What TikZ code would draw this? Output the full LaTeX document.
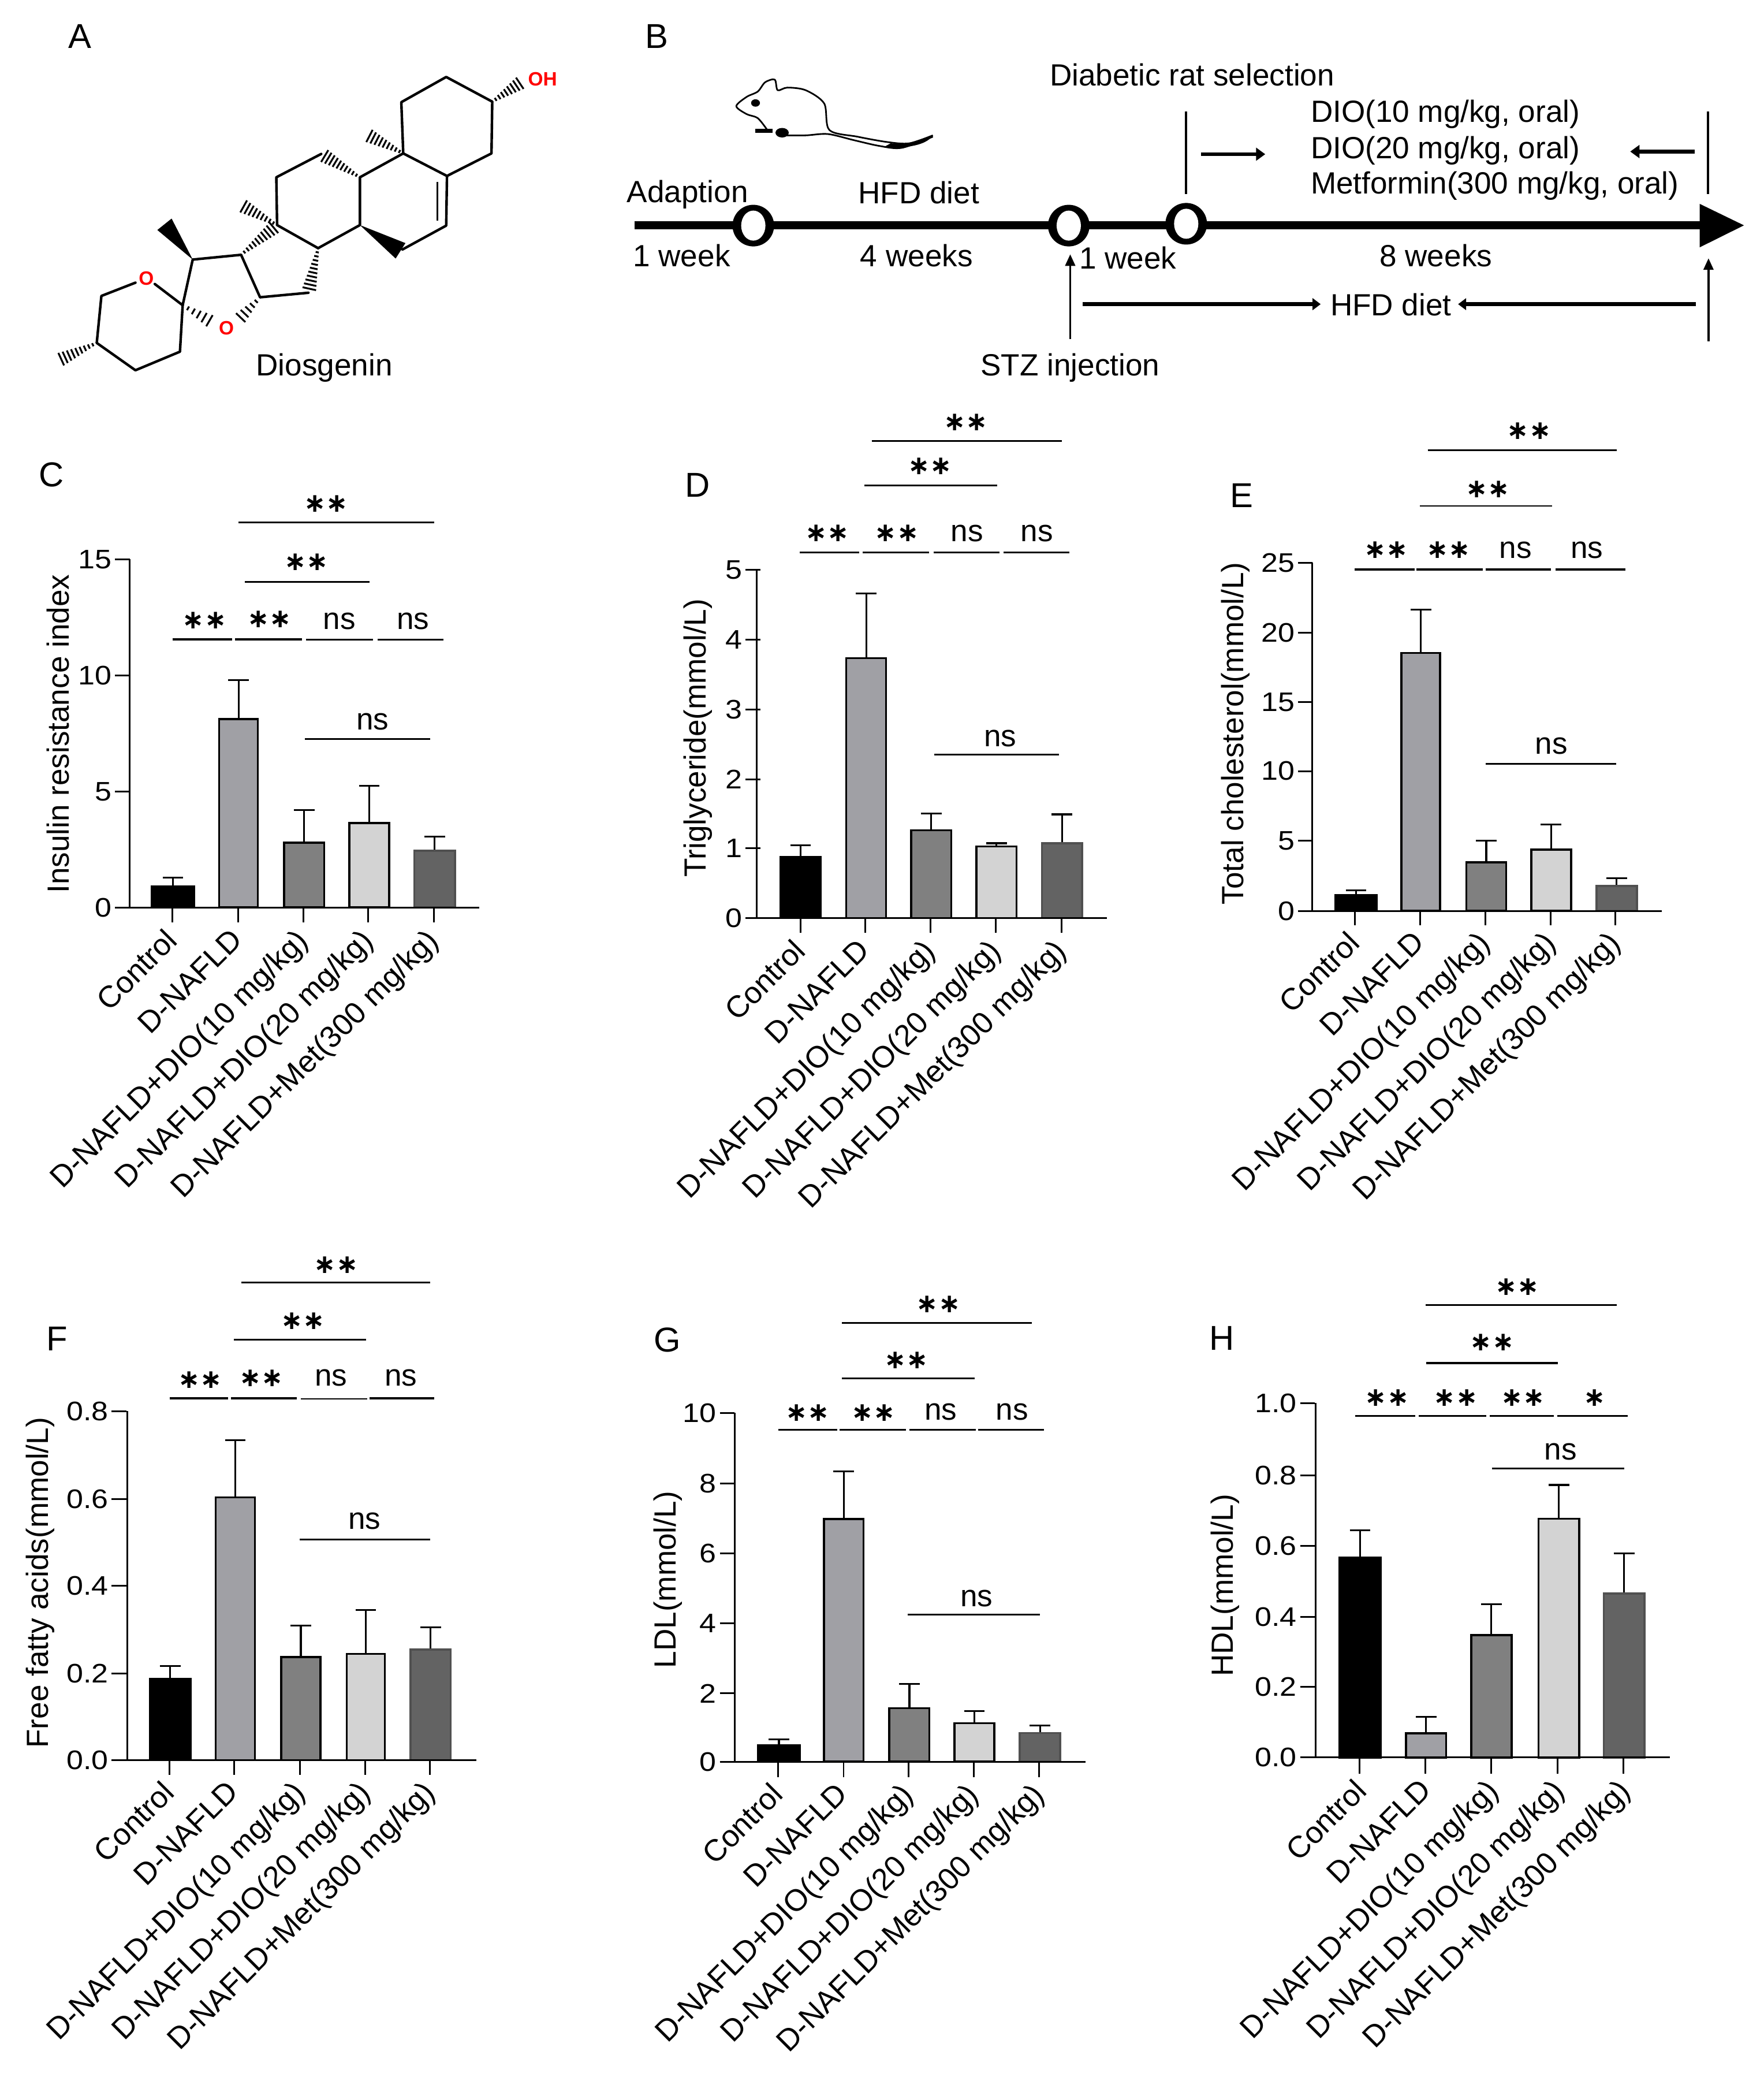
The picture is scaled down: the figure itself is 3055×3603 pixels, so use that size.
\documentclass[tikz,border=0pt]{standalone}
\usepackage{fontspec}
\setmainfont{Liberation Sans}
\newfontfamily\dvfont{DejaVu Sans}
\newfontfamily\tickfont[FakeStretch=1.12]{Liberation Sans}
\usetikzlibrary{calc,arrows.meta}
\newcount\ndc
\tikzset{
  txt/.style={inner sep=0pt,font=\fontsize{15.1}{17}\selectfont},
  nstxt/.style={txt,yshift=-0.025cm},
  ticktxt/.style={inner sep=0pt,anchor=east,font=\tickfont\fontsize{13.2}{15}\selectfont},
  axlab/.style={inner sep=0pt,rotate=90,font=\fontsize{15.1}{17}\selectfont},
  xlab/.style={inner sep=0pt,rotate=45,anchor=north east,font=\fontsize{15}{17}\selectfont},
  plet/.style={inner sep=0pt,font=\fontsize{17}{20}\selectfont},
  startxt/.style={inner sep=0pt,font=\dvfont\bfseries\fontsize{13}{15}\selectfont},
  axline/.style={line width=0.85pt,black},
  barbox/.style={line width=1pt,draw=black},
  errline/.style={line width=0.9pt,black},
  sigthin/.style={line width=0.8pt,black},
  sigthick/.style={line width=1pt,black},
  bond/.style={line width=1.25pt,black,line cap=round,line join=round},
  redatom/.style={inner sep=0pt,red,font=\bfseries\fontsize{9.5}{11}\selectfont},
  ring/.style={circle,fill=black,minimum size=0.72cm,inner sep=0pt},
  tlthin/.style={line width=1.1pt,black},
  tlmid/.style={line width=1.8pt,black},
}
\definecolor{cdn}{HTML}{A0A0A5}
\definecolor{cdten}{HTML}{808080}
\definecolor{cdtw}{HTML}{D3D3D3}
\definecolor{cmet}{HTML}{636363}
\definecolor{cmetb}{HTML}{505050}
\newcommand\lbl[3][txt]{\global\advance\ndc 1 \node[#1] (n\the\ndc) at (#2) {#3};}
\newcommand\nsl[1]{\lbl[nstxt]{#1}{ns}}
\newcommand\pbar[7][black]{%
  \draw[errline] ({(#2+#3)/2},#4) -- ({(#2+#3)/2},#6);
  \draw[errline] ({(#2+#3)/2-28},#6) -- ({(#2+#3)/2+28},#6);
  \draw[barbox,draw=#1,fill=#7] (#2,#5) rectangle (#3,#4);}
\newcommand\axes[7]{%
  \gdef\curtl{#4}%
  \draw[axline] (#1,#2) -- (#1,#3);
  \draw[axline] (#4,#3) -- (#5,#3);
  \foreach \tk in {#7} {\draw[axline] (\tk,#3) -- (\tk,#6);}}
\newcommand\ytk[2]{%
  \draw[axline] (\curtl,#1) -- ({\curtl+40},#1);
  \lbl[ticktxt]{{\curtl-8},#1}{#2}}
\newcommand\xlabs[6]{%
  \lbl[xlab]{{#1-25},{#6-8}}{Control}
  \lbl[xlab]{{#2-25},{#6-8}}{D-NAFLD}
  \lbl[xlab]{{#3-25},{#6-8}}{D-NAFLD+DIO(10 mg/kg)}
  \lbl[xlab]{{#4-25},{#6-8}}{D-NAFLD+DIO(20 mg/kg)}
  \lbl[xlab]{{#5-25},{#6-8}}{D-NAFLD+Met(300 mg/kg)}}
\newcommand\sgl[4][sigthin]{\draw[#1] (#2,#4) -- (#3,#4);}
\newcommand\stars[3]{\lbl[startxt]{#1,#2}{#3}}
\newcommand\hashb[3]{%
  \foreach \i in {0,...,#3} {%
    \pgfmathsetmacro\tt{\i/#3}\pgfmathsetmacro\ww{0.5+3.2*\i/#3}%
    \draw[line width=0.9pt] ($(#1)!\tt!(#2)!\ww pt!90:(#2)$) -- ($(#1)!\tt!(#2)!\ww pt!-90:(#2)$);}}
\newcommand\wedgeb[2]{\fill (#1) -- ($(#2)!4.5pt!90:(#1)$) -- ($(#2)!4.5pt!-90:(#1)$) -- cycle;}
\newcommand\ringhole[1]{\fill[white] (#1) ellipse [x radius=0.21cm,y radius=0.26cm];}
\begin{document}
\begin{tikzpicture}[x=0.01cm,y=-0.01cm]
\useasboundingbox (0,0) rectangle (3055,3603);
\fill[white] (0,0) rectangle (3055,3603);

% ---------- A
\begin{scope}[shift={(0,0)},x=0.006696cm,y=-0.004592cm]
\lbl[plet]{207,137}{A}
\foreach \n/\p in {a1/{1153,290},a2/{1272,383},a3/{1270,578},a4/{1155,663},a5/{1042,578},a6/{1037,385},
  b1/{1153,850},b2/{1040,940},b3/{930,848},b4/{930,668},c1/{830,580},c2/{714,668},c3/{716,848},c4/{822,935},
  d1/{797,1103},d2/{672,1120},d3/{623,960},e1/{498,978},s/{472,1150},f1/{262,1115},f2/{250,1292},f3/{350,1395},f4/{465,1325},
  oa/{378,1048},ob/{585,1235},oh/{1352,305},me1/{945,505},me2/{620,770},me3/{148,1360},wa/{425,845},wb/{1035,945},
  oa1/{400,1070},oa2/{350,1065},db1/{1130,685},db2/{1130,832},obs/{555,1220},obd/{612,1212}} {\coordinate (\n) at (\p);}
\draw[bond] (a5)--(a6)--(a1)--(a2)--(a3)--(a4)--(a5)--(b4)--(b3)--(c4);
\draw[bond] (a4)--(b1)--(b2);
\draw[line width=1pt] (db1)--(db2);
\draw[bond] (c1)--(c2)--(c3)--(c4);
\draw[bond] (d1)--(d2)--(d3)--(e1)--(s);
\draw[bond] (oa1)--(s)--(f4)--(f3)--(f2)--(f1)--(oa2);
\hashb{a2}{oh}{9}
\hashb{a5}{me1}{10}
\hashb{b4}{c1}{11}
\hashb{c3}{me2}{10}
\hashb{d3}{c3}{11}
\hashb{c4}{d1}{11}
\hashb{s}{obs}{6}
\hashb{d2}{obd}{6}
\hashb{f2}{me3}{10}
\wedgeb{e1}{wa}
\wedgeb{b3}{wb}
\lbl[redatom]{1402,298}{OH}
\lbl[redatom]{378,1048}{O}
\lbl[redatom]{585,1235}{O}
\lbl{838,1385}{Diosgenin}
\end{scope}

% ---------- B
\begin{scope}[shift={(1050,0)},x=0.012787cm,y=-0.004592cm]
\lbl[plet]{68,137}{B}
% mouse
\draw[line width=0.8pt,line join=round] plot[smooth,tension=0.5] coordinates {(218,490)(205,445)(190,430)(176,400)(190,365)(205,345)(215,310)(228,300)(232,340)(245,330)(270,340)(295,390)(302,490)(340,515)(380,535)(410,540)(442,510)};
\draw[line width=0.8pt,line join=round] plot[smooth,tension=0.5] coordinates {(240,510)(270,510)(300,505)(335,528)(370,550)(400,557)(442,515)};
\fill (202,388) ellipse (6 and 14);
\fill (202,485) rectangle (225,500);
\fill (238,500) ellipse (9 and 18);
\fill (385,540) .. controls (410,545) and (425,530) .. (442,510) .. controls (435,540) and (415,560) .. (375,555) -- cycle;
% timeline
\coordinate (tlstart) at (38,849);
\coordinate (tlend) at (1482,849);
\draw[line width=3.8pt] (tlstart) -- (tlend);
\fill (1480,768) -- (1540,849) -- (1480,932) -- cycle;
\node[ring] (r1) at (199,850) {};
\node[ring] (r2) at (626,850) {};
\node[ring] (r3) at (785,843) {};
\ringhole{r1}\ringhole{r2}\ringhole{r3}
\coordinate (v1t) at (785,420); \coordinate (v1b) at (785,732);
\coordinate (v2t) at (1491,420); \coordinate (v2b) at (1491,732);
\draw[tlthin] (v1t) -- (v1b);
\draw[tlthin] (v2t) -- (v2b);
\coordinate (ar1a) at (805,581); \coordinate (ar1b) at (892,581);
\coordinate (ar2a) at (1473,571); \coordinate (ar2b) at (1386,571);
\draw[tlmid,-{Triangle[length=0.16cm,width=0.22cm]}] (ar1a) -- (ar1b);
\draw[tlmid,-{Triangle[length=0.16cm,width=0.22cm]}] (ar2a) -- (ar2b);
\coordinate (stzb) at (628,1278); \coordinate (stzt) at (628,958);
\coordinate (endb) at (1492,1285); \coordinate (endt) at (1492,973);
\draw[tlthin,-{Triangle[length=0.2cm,width=0.17cm]}] (stzb) -- (stzt);
\draw[tlthin,-{Triangle[length=0.2cm,width=0.17cm]}] (endb) -- (endt);
\coordinate (hfa) at (645,1146); \coordinate (hfb) at (967,1146);
\coordinate (hfc) at (1475,1146); \coordinate (hfd) at (1153,1146);
\draw[tlmid,-{Triangle[length=0.14cm,width=0.2cm]}] (hfa) -- (hfb);
\draw[tlmid,-{Triangle[length=0.14cm,width=0.2cm]}] (hfc) -- (hfd);
\lbl{793,282}{Diabetic rat selection}
\lbl[txt,anchor=west]{953,430}{DIO(10 mg/kg, oral)}
\lbl[txt,anchor=west]{953,567}{DIO(20 mg/kg, oral)}
\lbl[txt,anchor=west]{953,700}{Metformin(300 mg/kg, oral)}
\lbl{110,733}{Adaption}
\lbl{423,725}{HFD diet}
\lbl{102,964}{1 week}
\lbl{420,964}{4 weeks}
\lbl{706,972}{1 week}
\lbl{1123,964}{8 weeks}
\lbl{1062,1148}{HFD diet}
\lbl{628,1386}{STZ injection}
\end{scope}

% ---------- C
\begin{scope}[shift={(0,760)},x=0.006378cm,y=-0.00861cm]
\lbl[plet]{140,72}{C}
\pbar{412}{527}{900}{942}{882}{black}
\pbar{595}{700}{563}{942}{485}{cdn}
\pbar{771}{880}{812}{942}{746}{cdten}
\pbar{948}{1056}{772}{942}{697}{cdtw}
\pbar[cmetb]{1124}{1235}{828}{942}{800}{cmet}
\axes{352}{242}{942}{312}{1300}{972}{468,646,823,999,1177}
\ytk{242}{15}\ytk{476}{10}\ytk{709}{5}\ytk{942}{0}
\xlabs{468}{646}{823}{999}{1177}{988}
\lbl[axlab]{157,593}{Insulin resistance index}
\sgl[sigthick]{647}{1178}{168}
\sgl{665}{1003}{287}
\sgl[sigthick]{468}{630}{403}\sgl[sigthick]{638}{820}{403}\sgl{831}{1013}{404}\sgl{1025}{1203}{404}
\sgl{828}{1167}{603}
\stars{885}{130}{∗∗}\stars{832}{248}{∗∗}\stars{555}{365}{∗∗}\stars{731}{363}{∗∗}
\nsl{921,363}\nsl{1121,363}\nsl{1011,565}
\end{scope}

% ---------- D
\begin{scope}[shift={(1100,700)},x=0.006378cm,y=-0.008929cm]
\lbl[plet]{170,157}{D}
\pbar{395}{503}{877}{996}{855}{black}
\pbar{573}{681}{492}{996}{367}{cdn}
\pbar{749}{858}{826}{996}{793}{cdten}
\pbar{926}{1035}{857}{996}{851}{cdtw}
\pbar[cmetb]{1104}{1213}{851}{996}{795}{cmet}
\axes{330}{321}{996}{300}{1280}{1025}{449,625,801,979,1157}
\ytk{321}{5}\ytk{456}{4}\ytk{592}{3}\ytk{727}{2}\ytk{861}{1}\ytk{996}{0}
\xlabs{449}{625}{801}{979}{1157}{1040}
\lbl[axlab]{170,647}{Triglyceride(mmol/L)}
\sgl[sigthick]{642}{1158}{71}
\sgl{622}{982}{157}
\sgl{447}{608}{287}\sgl{618}{798}{287}\sgl{810}{988}{287}\sgl{1000}{1178}{287}
\sgl{812}{1150}{679}
\stars{897}{35}{∗∗}\stars{800}{120}{∗∗}\stars{521}{250}{∗∗}\stars{710}{250}{∗∗}
\nsl{901,247}\nsl{1090,247}\nsl{991,645}
\end{scope}

% ---------- E
\begin{scope}[shift={(2050,700)},x=0.006378cm,y=-0.008929cm]
\lbl[plet]{157,177}{E}
\pbar{412}{523}{951}{982}{942}{black}
\pbar{591}{696}{482}{982}{398}{cdn}
\pbar{767}{875}{888}{982}{846}{cdten}
\pbar{943}{1051}{863}{982}{815}{cdtw}
\pbar[cmetb]{1120}{1230}{934}{982}{919}{cmet}
\axes{349}{307}{982}{310}{1297}{1010}{465,642,818,996,1172}
\ytk{307}{25}\ytk{443}{20}\ytk{577}{15}\ytk{711}{10}\ytk{846}{5}\ytk{982}{0}
\xlabs{465}{642}{818}{996}{1172}{1025}
\lbl[axlab]{140,638}{Total cholesterol(mmol/L)}
\sgl{662}{1175}{89}
\sgl{641}{1000}{197}
\sgl[sigthick]{464}{626}{320}\sgl[sigthick]{632}{811}{320}\sgl[sigthick]{819}{997}{320}\sgl[sigthick]{1009}{1198}{320}
\sgl[sigthick]{820}{1174}{697}
\stars{937}{52}{∗∗}\stars{825}{165}{∗∗}\stars{549}{282}{∗∗}\stars{719}{282}{∗∗}
\nsl{901,280}\nsl{1094,280}\nsl{998,660}
\end{scope}

% ---------- F
\begin{scope}[shift={(0,2150)},x=0.006378cm,y=-0.009247cm]
\lbl[plet]{155,182}{F}
\pbar{407}{517}{818}{970}{794}{black}
\pbar{585}{692}{478}{970}{371}{cdn}
\pbar{763}{870}{777}{970}{718}{cdten}
\pbar{941}{1044}{771}{970}{689}{cdtw}
\pbar[cmetb]{1114}{1223}{763}{970}{721}{cmet}
\axes{345}{317}{970}{303}{1293}{998}{460,635,814,991,1167}
\ytk{317}{0.8}\ytk{481}{0.6}\ytk{644}{0.4}\ytk{808}{0.2}\ytk{970}{0.0}
\xlabs{460}{635}{814}{991}{1167}{1012}
\lbl[axlab]{110,638}{Free fatty acids(mmol/L)}
\sgl{655}{1168}{76}
\sgl{635}{993}{183}
\sgl[sigthick]{460}{619}{293}\sgl[sigthick]{627}{806}{293}\sgl{817}{997}{294}\sgl[sigthick]{1003}{1179}{293}
\sgl[sigthick]{813}{1168}{557}
\stars{912}{43}{∗∗}\stars{822}{148}{∗∗}\stars{543}{258}{∗∗}\stars{709}{255}{∗∗}
\nsl{898,252}\nsl{1088,252}\nsl{989,520}
\end{scope}

% ---------- G
\begin{scope}[shift={(1050,2150)},x=0.006378cm,y=-0.009247cm]
\lbl[plet]{165,184}{G}
\pbar{412}{525}{942}{973}{931}{black}
\pbar{591}{698}{519}{973}{430}{cdn}
\pbar{768}{877}{873}{973}{827}{cdten}
\pbar{945}{1053}{901}{973}{878}{cdtw}
\pbar[cmetb]{1122}{1232}{919}{973}{905}{cmet}
\axes{349}{320}{973}{308}{1300}{1002}{466,644,820,997,1175}
\ytk{320}{10}\ytk{452}{8}\ytk{583}{6}\ytk{714}{4}\ytk{845}{2}\ytk{973}{0}
\xlabs{466}{644}{820}{997}{1175}{1016}
\lbl[axlab]{168,632}{LDL(mmol/L)}
\sgl[sigthick]{640}{1155}{152}
\sgl{640}{999}{256}
\sgl[sigthick]{467}{627}{352}\sgl[sigthick]{633}{814}{352}\sgl[sigthick]{822}{1003}{352}\sgl[sigthick]{1009}{1188}{352}
\sgl{818}{1177}{698}
\stars{901}{117}{∗∗}\stars{814}{222}{∗∗}\stars{546}{320}{∗∗}\stars{725}{320}{∗∗}
\nsl{908,316}\nsl{1101,316}\nsl{1005,665}
\end{scope}

% ---------- H
\begin{scope}[shift={(2050,2150)},x=0.006378cm,y=-0.009247cm]
\lbl[plet]{103,180}{H}
\pbar{422}{535}{591}{965}{540}{black}
\pbar{603}{712}{920}{965}{889}{cdn}
\pbar{780}{890}{736}{965}{678}{cdten}
\pbar{963}{1073}{518}{965}{455}{cdtw}
\pbar[cmetb]{1140}{1250}{658}{965}{583}{cmet}
\axes{358}{302}{965}{316}{1320}{995}{477,655,835,1014,1193}
\ytk{302}{1.0}\ytk{437}{0.8}\ytk{569}{0.6}\ytk{702}{0.4}\ytk{833}{0.2}\ytk{965}{0.0}
\xlabs{483}{661}{841}{1020}{1199}{1009}
\lbl[axlab]{112,643}{HDL(mmol/L)}
\sgl{657}{1175}{118}
\sgl[sigthick]{658}{1016}{227}
\sgl{465}{629}{326}\sgl{638}{821}{326}\sgl{831}{1004}{326}\sgl{1014}{1205}{326}
\sgl[sigthick]{836}{1195}{424}
\stars{905}{85}{∗∗}\stars{837}{188}{∗∗}\stars{552}{292}{∗∗}\stars{738}{292}{∗∗}\stars{921}{292}{∗∗}\stars{1115}{292}{∗}
\nsl{1023,390}
\end{scope}
\end{tikzpicture}
\end{document}
